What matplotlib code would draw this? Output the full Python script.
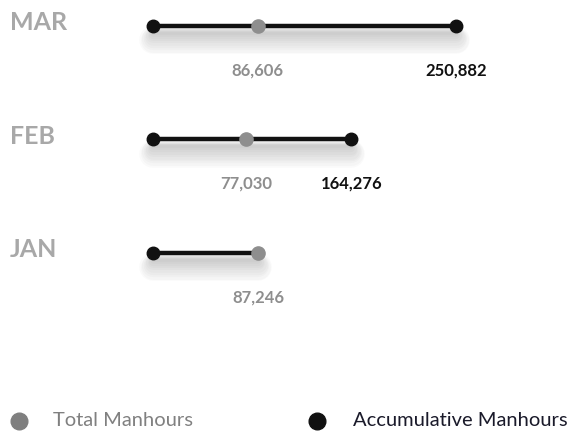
import matplotlib.pyplot as plt
import matplotlib.patheffects as pe

# Data
months = ['JAN', 'FEB', 'MAR']
total_manhours = [87246, 77030, 86606]
accum_manhours = [87246, 164276, 250882]

grey = '#8e8e8e'
black = '#111111'
label_grey = '#a8a8a8'

plt.rcParams['font.family'] = ['Lato', 'DejaVu Sans']

fig = plt.figure(figsize=(5.79, 4.32), dpi=100)
ax = fig.add_axes([0, 0, 1, 1])

# map x=0 to pixel 153 and max accumulative to pixel 456
px = max(accum_manhours) / 303.0
ax.set_xlim(-153 * px, (579 - 153) * px)
# one row every ~113 px, MAR row 26 px from top
ax.set_ylim(-1.577, 2.229)
ax.axis('off')

# soft blurred shadow under each line
shadow = [pe.SimpleLineShadow(offset=(0, -5 - 0.6 * i), shadow_color='#000000',
                              alpha=0.018, linewidth=2 + 2.0 * i) for i in range(10)]

for i, m in enumerate(months):
    y = i
    end = accum_manhours[i]
    ax.plot([0, end], [y, y], color=black, lw=3.2, solid_capstyle='round',
            path_effects=shadow + [pe.Normal()], zorder=2)
    ax.plot(0, y, 'o', color=black, ms=9, zorder=3)
    ax.plot(total_manhours[i], y, 'o', color=grey, ms=9.5, zorder=4)
    ax.text(total_manhours[i], y - 0.39, f'{total_manhours[i]:,}', color=grey,
            fontsize=12, fontweight='bold', ha='center', va='center')
    if accum_manhours[i] != total_manhours[i]:
        ax.plot(end, y, 'o', color=black, ms=9, zorder=4)
        ax.text(end, y - 0.39, f'{end:,}', color=black,
                fontsize=12, fontweight='bold', ha='center', va='center')
    ax.text(-143 * px, y + 0.03, m, color=label_grey, fontsize=18,
            fontweight='bold', ha='left', va='center')

# Legend
ly = -1.48
ax.plot(-134 * px, ly, 'o', color='#7f7f7f', ms=12)
ax.text(-100 * px, ly, 'Total Manhours', color='#808080', fontsize=14.5,
        ha='left', va='center')
ax.plot(164 * px, ly, 'o', color=black, ms=12)
ax.text(200 * px, ly, 'Accumulative Manhours', color='#1a1a2a', fontsize=14.5,
        ha='left', va='center')

fig.savefig('out.png', dpi=100)
